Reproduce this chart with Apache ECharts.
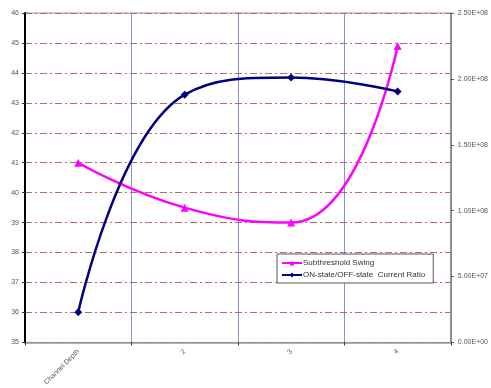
<!DOCTYPE html>
<html><head><meta charset="utf-8">
<script src="https://cdn.jsdelivr.net/npm/echarts@6/dist/echarts.min.js"></script>
<style>html,body{margin:0;padding:0;background:#fff}#c{width:491px;height:388px}</style>
</head><body><div id="c"></div>
<script>
const categories = ['Channel Depth', '2', '3', '4'];
const swing = [41.0, 39.5, 39.0, 44.9];
const ratio = [2.29e7, 1.88e8, 2.01e8, 1.905e8];
const leftTicks = [35, 46, 1];
const rightTicks = [0, 2.5e8, 5e7];

function expFmt(v) {
  const s = Number(v).toExponential(2).toUpperCase();
  const m = s.match(/^(-?[\d.]+)E([+-])(\d+)$/);
  return m[1] + 'E' + m[2] + (m[3].length < 2 ? '0' + m[3] : m[3]);
}
const chart = echarts.init(document.getElementById('c'));
const gridDash = { color: '#b86a6a', width: 1, type: [7, 3, 2, 3] };
chart.setOption({
  animation: false,
  grid: { left: 25, right: 38, top: 13, bottom: 42, show: true, borderColor: '#9a9a9a', borderWidth: 1 },
  legend: {
    left: 277, top: 254, orient: 'vertical', itemGap: 4, itemWidth: 20, itemHeight: 6,
    padding: [5, 8, 4, 4], borderColor: '#555', borderWidth: 1, backgroundColor: '#fff',
    textStyle: { fontFamily: 'Liberation Sans', fontSize: 8, color: '#333', padding: [0, 0, 0, -4] },
    data: [{ name: 'Subthreshold Swing' }, { name: 'ON-state/OFF-state  Current Ratio' }]
  },
  xAxis: {
    type: 'category', data: categories, boundaryGap: true,
    axisLine: { lineStyle: { color: '#9a9a9a', width: 1.5 } },
    axisTick: { show: true, length: 3, lineStyle: { color: '#333' } },
    axisLabel: { rotate: 45, fontSize: 7, color: '#555', fontFamily: 'Liberation Sans', margin: 8 },
    splitLine: { show: true, lineStyle: { color: '#7070d0', width: 0.8 } }
  },
  yAxis: [{
    type: 'value', min: leftTicks[0], max: leftTicks[1], interval: leftTicks[2],
    axisLine: { show: true, lineStyle: { color: '#000', width: 2 } },
    axisTick: { show: true, length: 3, lineStyle: { color: '#333' } },
    axisLabel: { fontSize: 7, color: '#555', fontFamily: 'Liberation Sans', margin: 6 },
    splitLine: { show: true, lineStyle: gridDash }
  }, {
    type: 'value', min: rightTicks[0], max: rightTicks[1], interval: rightTicks[2],
    position: 'right',
    axisLine: { show: true, lineStyle: { color: '#888', width: 1.5 } },
    axisTick: { show: true, length: 3, inside: false, lineStyle: { color: '#555' } },
    axisLabel: { fontSize: 7, color: '#555', fontFamily: 'Liberation Sans', margin: 7, formatter: expFmt },
    splitLine: { show: false }
  }],
  series: [{
    name: 'Subthreshold Swing', type: 'line', yAxisIndex: 0, data: swing, smooth: 0.5,
    symbol: 'triangle', symbolSize: 8,
    lineStyle: { color: '#ff00ff', width: 2.5 }, itemStyle: { color: '#ff00ff' }
  }, {
    name: 'ON-state/OFF-state  Current Ratio', type: 'line', yAxisIndex: 1, data: ratio, smooth: 0.45,
    symbol: 'diamond', symbolSize: 8,
    lineStyle: { color: '#000080', width: 2.5 }, itemStyle: { color: '#000080' }
  }]
});
</script></body></html>
